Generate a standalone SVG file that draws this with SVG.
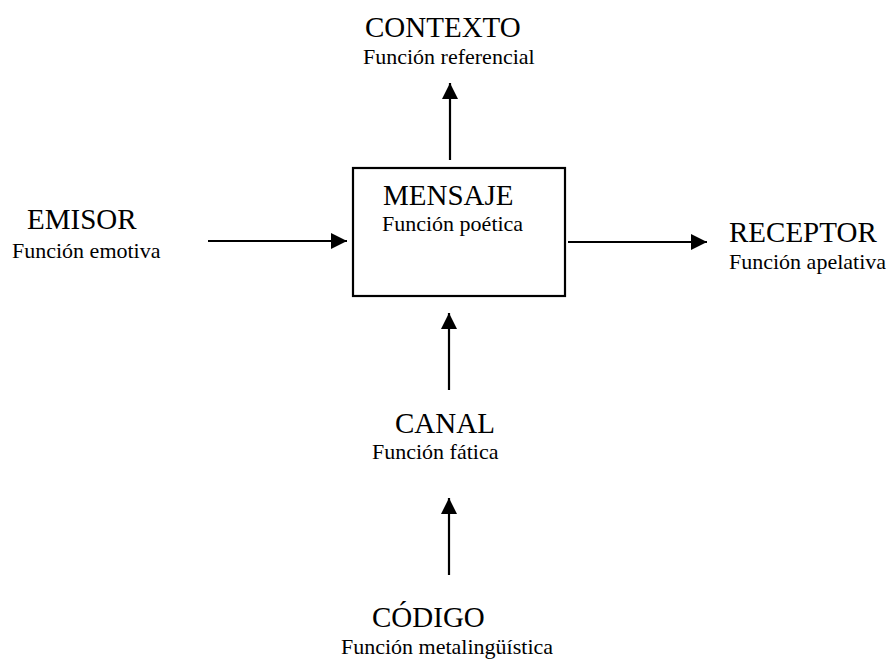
<svg xmlns="http://www.w3.org/2000/svg" width="891" height="662" viewBox="0 0 891 662">
<style>
.t{font-family:"Liberation Serif","Times New Roman",serif;font-size:29px;fill:#000}
.s{font-family:"Liberation Serif","Times New Roman",serif;font-size:22px;fill:#000}
.c{stroke:#000;stroke-width:2.2;fill:none}
</style>
<defs>
<marker id="ah" markerUnits="userSpaceOnUse" markerWidth="17" markerHeight="17" refX="16" refY="8" orient="auto">
<path d="M0,0 L16,8 L0,16 Z" fill="#000"/>
</marker>
</defs>
<rect width="891" height="662" fill="#fff"/>
<g id="mensaje">
<rect x="353" y="168" width="212" height="128" fill="#fff" stroke="#000" stroke-width="2.2"/>
<text class="t" x="383" y="205">MENSAJE</text>
<text class="s" x="382" y="231">Función poética</text>
</g>
<g id="contexto">
<text class="t" x="365" y="37">CONTEXTO</text>
<text class="s" x="363" y="64">Función referencial</text>
</g>
<g id="emisor">
<text class="t" x="27" y="229">EMISOR</text>
<text class="s" x="12" y="258">Función emotiva</text>
</g>
<g id="receptor">
<text class="t" x="729" y="242">RECEPTOR</text>
<text class="s" x="729" y="269">Función apelativa</text>
</g>
<g id="canal">
<text class="t" x="395" y="433">CANAL</text>
<text class="s" x="372" y="459">Función fática</text>
</g>
<g id="codigo">
<text class="t" x="372" y="627">CÓDIGO</text>
<text class="s" x="341" y="654">Función metalingüística</text>
</g>
<g id="connectors">
<line class="c" x1="450" y1="160" x2="450" y2="83" marker-end="url(#ah)"/>
<line class="c" x1="208" y1="241" x2="347" y2="241" marker-end="url(#ah)"/>
<line class="c" x1="568" y1="242" x2="707" y2="242" marker-end="url(#ah)"/>
<line class="c" x1="449" y1="390" x2="449" y2="313" marker-end="url(#ah)"/>
<line class="c" x1="449" y1="575" x2="449" y2="498" marker-end="url(#ah)"/>
</g>
</svg>
